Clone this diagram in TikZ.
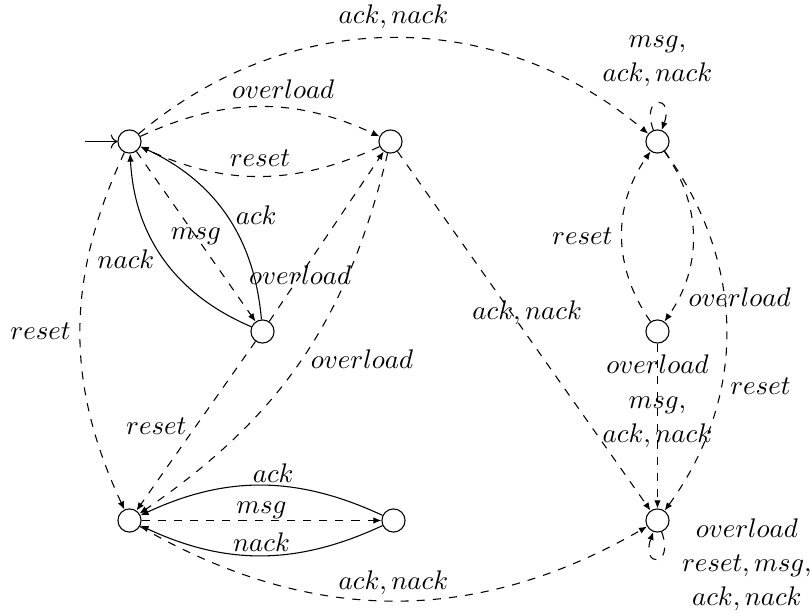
\documentclass[tikz,border=0pt]{standalone}
\usetikzlibrary{arrows.meta}
\begin{document}
\begin{tikzpicture}[x=0.3717pt,y=0.3717pt,
  state/.style={circle,draw,minimum size=8.6pt,inner sep=0pt},
  tr/.style={-{Latex[length=3pt,width=2.4pt]}},
  dtr/.style={tr,dashed},
  ml/.style={align=center}]
\useasboundingbox (0,0) rectangle (810,-613);
\node[state] (A) at (129.5,-141.5) {};
\node[state] (B) at (390.5,-141.5) {};
\node[state] (C) at (262.5,-331.5) {};
\node[state] (D) at (129.5,-520.5) {};
\node[state] (E) at (393.5,-520.5) {};
\node[state] (F) at (657.5,-141.5) {};
\node[state] (G) at (657.5,-331.5) {};
\node[state] (H) at (657.5,-520.5) {};
\coordinate (init) at (85,-141.5);
\draw[->] (init) -- (A);
\draw[dtr] (A) to[bend left=40] node[above] {$ack, nack$} (F);
\draw[dtr] (A) to[bend left=25] node[above,pos=0.6] {$overload$} (B);
\draw[dtr] (B) to[bend left=25] node[above] {$reset$} (A);
\draw[dtr] (A) -- node {$msg$} (C);
\draw[tr] (C) to[bend right=30] node[right] {$ack$} (A);
\draw[tr] (C) to[bend left=32] node[left] {$nack$} (A);
\draw[dtr] (C) -- node[pos=0.27] {$overload$} (B);
\draw[dtr] (A) to[bend right=25] node[left] {$reset$} (D);
\draw[dtr] (C) -- node[left] {$reset$} (D);
\draw[dtr] (B) to[bend left=21] node[right] {$overload$} (D);
\draw[dtr] (B) -- node[pos=0.45,xshift=5.9pt] {$ack, nack$} (H);
\draw[dtr] (D) -- node[above,yshift=-3pt] {$msg$} (E);
\draw[tr] (E) to[bend right=25] node[above,pos=0.45,yshift=-2.5pt] {$ack$} (D);
\draw[tr] (E) to[bend left=25] node[above,yshift=-2pt] {$nack$} (D);
\draw[dtr] (D) to[bend right=30] node[above,yshift=-1.5pt] {$ack, nack$} (H);
\draw[dtr] (F) to[out=110,in=70,looseness=8,min distance=5mm] node[above,yshift=2.5pt,ml] {$msg,$\\[0.8pt]$ack, nack$} (F);
\draw[dtr] (F) to[bend left=35] node[right,pos=0.85] {$overload$} (G);
\draw[dtr] (G) to[bend left=35] node[left] {$reset$} (F);
\draw[dtr] (F) to[bend left=36] node[right,pos=0.65] {$reset$} (H);
\draw[dtr] (G) -- node[pos=0.35,ml] {$overload$\\[0.8pt]$msg,$\\[0.8pt]$ack, nack$} (H);
\draw[dtr] (H) to[out=-70,in=-110,looseness=8,min distance=5mm] node[right,xshift=5.6pt,yshift=-2.2pt,ml] {$overload$\\[0.8pt]$reset, msg,$\\[0.8pt]$ack, nack$} (H);
\end{tikzpicture}
\end{document}
